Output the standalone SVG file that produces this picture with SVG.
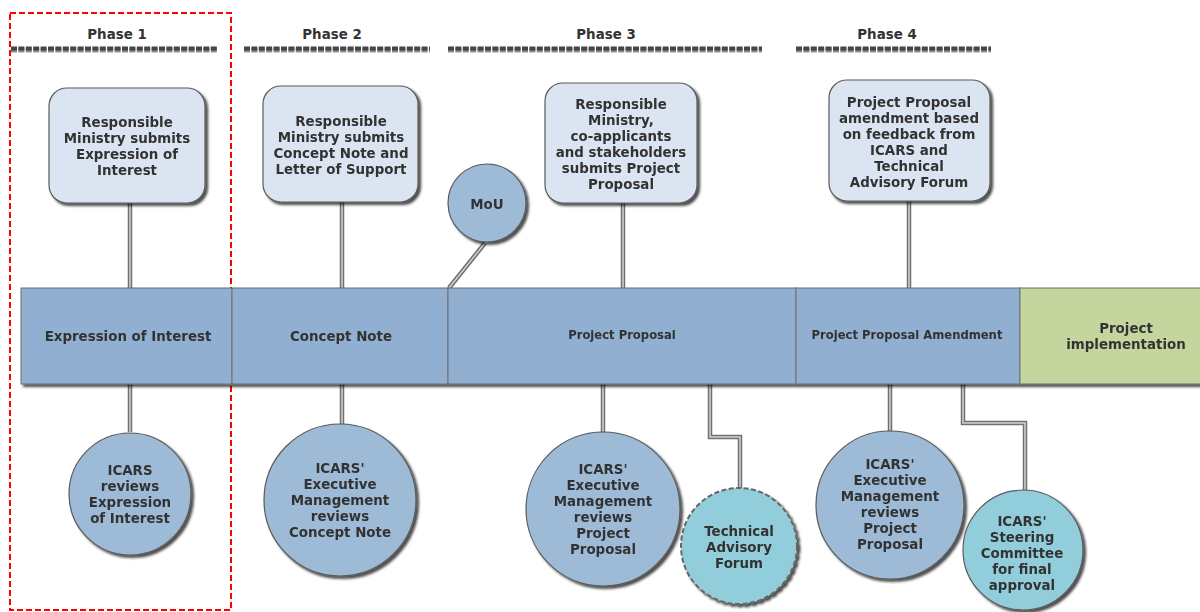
<svg xmlns="http://www.w3.org/2000/svg" width="1200" height="612" viewBox="0 0 1200 612">
<defs>
<filter id="sh" x="-20%" y="-20%" width="150%" height="150%">
<feDropShadow dx="2.5" dy="2.5" stdDeviation="1.2" flood-color="#000" flood-opacity="0.7"/>
</filter>
<filter id="sh2" filterUnits="userSpaceOnUse" x="0" y="40" width="1000" height="20">
<feDropShadow dx="0" dy="1.8" stdDeviation="0.7" flood-color="#000" flood-opacity="0.5"/>
</filter>
</defs>
<style>
text{font-family:"DejaVu Sans",Verdana,sans-serif;font-weight:bold;fill:#333;text-anchor:middle}
.t13{font-size:13.4px}
.t12{font-size:11.6px}
.box{fill:#dbe5f1;stroke:#5a5a5a;stroke-width:1.2}
.circ{fill:#9dbad6;stroke:#5a5a5a;stroke-width:1.2}
.circc{fill:#92cddc;stroke:#5a5a5a;stroke-width:1.2}
.dash{fill:#92cddc;stroke:#666;stroke-width:2;stroke-dasharray:5,2.5}
.seg{fill:#91afd0;stroke:#6f6f6f;stroke-width:1}
.segg{fill:#c4d69d;stroke:#6f6f6f;stroke-width:1}
.co{fill:none;stroke:#707070;stroke-width:4.5}
.ci{fill:none;stroke:#d2d2d2;stroke-width:1.5}
.ph{stroke:#444;stroke-width:4;stroke-dasharray:6,1.4}
</style>
<rect x="10" y="13" width="221" height="597" fill="none" stroke="#f00" stroke-width="2" stroke-dasharray="6,3"/>
<g id="phases">
<text class="t13" x="117" y="39">Phase 1</text>
<text class="t13" x="332" y="39">Phase 2</text>
<text class="t13" x="606" y="39">Phase 3</text>
<text class="t13" x="887" y="39">Phase 4</text>
<g filter="url(#sh2)">
<line class="ph" x1="11" y1="48.5" x2="217" y2="48.5"/>
<line class="ph" x1="244" y1="48.5" x2="430" y2="48.5"/>
<line class="ph" x1="448" y1="48.5" x2="762" y2="48.5"/>
<line class="ph" x1="796" y1="48.5" x2="991" y2="48.5"/>
</g>
</g>
<g id="connectors">
<path class="co" d="M130 203V288M342 202V288M623 203V288M909 201V288M485 243L449 288M130 384V432M342 384V424M603 384V432M710 384V437H740V490M890 384V432M963 384V423H1025V491"/>
<path class="ci" d="M130 203V288M342 202V288M623 203V288M909 201V288M485 243L449 288M130 384V432M342 384V424M603 384V432M710 384V437H740V490M890 384V432M963 384V423H1025V491"/>
</g>
<g id="bar" filter="url(#sh)">
<g id="seg-eoi"><rect class="seg" x="21" y="288" width="211" height="96"/><text class="t13" x="128" y="341">Expression of Interest</text></g>
<g id="seg-cn"><rect class="seg" x="232" y="288" width="216" height="96"/><text class="t13" x="341" y="341">Concept Note</text></g>
<g id="seg-pp"><rect class="seg" x="448" y="288" width="348" height="96"/><text class="t12" x="622" y="339">Project Proposal</text></g>
<g id="seg-ppa"><rect class="seg" x="796" y="288" width="224" height="96"/><text class="t12" x="907" y="339">Project Proposal Amendment</text></g>
<g id="seg-impl"><rect class="segg" x="1020" y="288" width="185" height="96"/><text class="t13" x="1126" y="333">Project</text><text class="t13" x="1126" y="349">implementation</text></g>
</g>
<g id="box1" filter="url(#sh)"><rect class="box" x="49" y="88" width="156" height="115" rx="18"/>
<text class="t13"><tspan x="127" y="127">Responsible</tspan><tspan x="127" y="143">Ministry submits</tspan><tspan x="127" y="159">Expression of</tspan><tspan x="127" y="175">Interest</tspan></text></g>
<g id="box2" filter="url(#sh)"><rect class="box" x="263" y="86" width="155" height="116" rx="18"/>
<text class="t13"><tspan x="341" y="126">Responsible</tspan><tspan x="341" y="142">Ministry submits</tspan><tspan x="341" y="158">Concept Note and</tspan><tspan x="341" y="174">Letter of Support</tspan></text></g>
<g id="box3" filter="url(#sh)"><rect class="box" x="545" y="83" width="152" height="120" rx="18"/>
<text class="t13"><tspan x="621" y="109">Responsible</tspan><tspan x="621" y="125">Ministry,</tspan><tspan x="621" y="141">co-applicants</tspan><tspan x="621" y="157">and stakeholders</tspan><tspan x="621" y="173">submits Project</tspan><tspan x="621" y="189">Proposal</tspan></text></g>
<g id="box4" filter="url(#sh)"><rect class="box" x="829" y="80" width="161" height="121" rx="18"/>
<text class="t13"><tspan x="909" y="107">Project Proposal</tspan><tspan x="909" y="123">amendment based</tspan><tspan x="909" y="139">on feedback from</tspan><tspan x="909" y="155">ICARS and</tspan><tspan x="909" y="171">Technical</tspan><tspan x="909" y="187">Advisory Forum</tspan></text></g>
<g id="mou" filter="url(#sh)"><circle class="circ" cx="487" cy="203" r="39"/><text class="t13" x="487" y="209">MoU</text></g>
<g id="c1" filter="url(#sh)"><circle class="circ" cx="130" cy="494" r="61"/>
<text class="t13"><tspan x="130" y="475">ICARS</tspan><tspan x="130" y="491">reviews</tspan><tspan x="130" y="507">Expression</tspan><tspan x="130" y="523">of Interest</tspan></text></g>
<g id="c2" filter="url(#sh)"><circle class="circ" cx="340" cy="500" r="76"/>
<text class="t13"><tspan x="340" y="473">ICARS'</tspan><tspan x="340" y="489">Executive</tspan><tspan x="340" y="505">Management</tspan><tspan x="340" y="521">reviews</tspan><tspan x="340" y="537">Concept Note</tspan></text></g>
<g id="c3" filter="url(#sh)"><circle class="circ" cx="603" cy="509" r="77"/>
<text class="t13"><tspan x="603" y="474">ICARS'</tspan><tspan x="603" y="490">Executive</tspan><tspan x="603" y="506">Management</tspan><tspan x="603" y="522">reviews</tspan><tspan x="603" y="538">Project</tspan><tspan x="603" y="554">Proposal</tspan></text></g>
<g id="c4" filter="url(#sh)"><circle class="dash" cx="739" cy="546" r="58"/>
<text class="t13"><tspan x="739" y="536">Technical</tspan><tspan x="739" y="552">Advisory</tspan><tspan x="739" y="568">Forum</tspan></text></g>
<g id="c5" filter="url(#sh)"><circle class="circ" cx="890" cy="505" r="74"/>
<text class="t13"><tspan x="890" y="469">ICARS'</tspan><tspan x="890" y="485">Executive</tspan><tspan x="890" y="501">Management</tspan><tspan x="890" y="517">reviews</tspan><tspan x="890" y="533">Project</tspan><tspan x="890" y="549">Proposal</tspan></text></g>
<g id="c6" filter="url(#sh)"><circle class="circc" cx="1023" cy="550" r="60"/>
<text class="t13"><tspan x="1022" y="526">ICARS'</tspan><tspan x="1022" y="542">Steering</tspan><tspan x="1022" y="558">Committee</tspan><tspan x="1022" y="574">for final</tspan><tspan x="1022" y="590">approval</tspan></text></g>
</svg>
